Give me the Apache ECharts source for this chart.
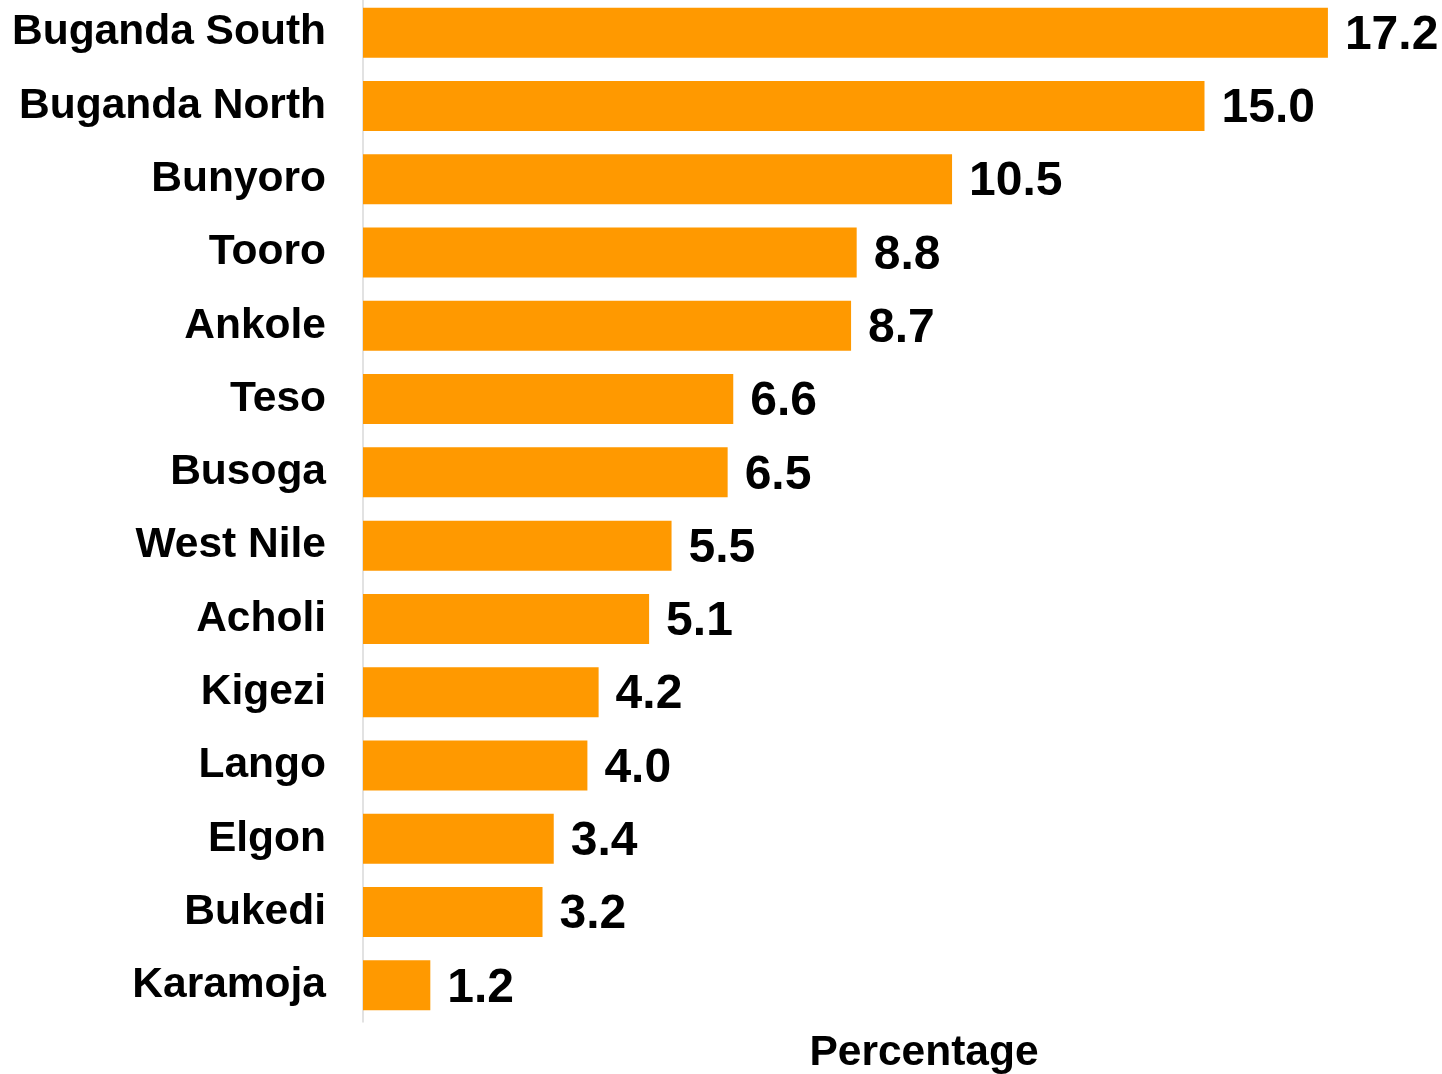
<!DOCTYPE html>
<html>
<head>
<meta charset="utf-8">
<script src="https://cdn.jsdelivr.net/npm/echarts@6/dist/echarts.min.js"></script>
<style>
  html, body { margin: 0; padding: 0; background: #fff; overflow: hidden; }
  /* canvas is a bit larger than the window so the plot can run past the edges */
  #myChart { position: absolute; left: 0; top: -10px; width: 1500px; height: 1094px; }
</style>
</head>
<body>
<div id="myChart"></div>
<script>
// regions, top to bottom
var regions = ["Buganda South", "Buganda North", "Bunyoro", "Tooro", "Ankole", "Teso", "Busoga",
  "West Nile", "Acholi", "Kigezi", "Lango", "Elgon", "Bukedi", "Karamoja"];
var percentages = [17.2, 15.0, 10.5, 8.8, 8.7, 6.6, 6.5, 5.5, 5.1, 4.2, 4.0, 3.4, 3.2, 1.2];
var axisName = "Percentage";

var font = "Liberation Sans, Arial, sans-serif";
var myChart = echarts.init(document.getElementById("myChart"));
myChart.setOption({
  animation: false,
  grid: {
    left: 363,
    top: 6,
    width: 1122,
    height: 1026
  },
  xAxis: {
    type: "value",
    min: 0,
    max: 20,
    name: axisName,
    nameLocation: "middle",
    nameGap: 10,
    nameTextStyle: { fontFamily: font, fontSize: 42.5, fontWeight: "bold", color: "#000" },
    axisLine: { show: false },
    axisTick: { show: false },
    axisLabel: { show: false },
    splitLine: { show: false }
  },
  yAxis: {
    type: "category",
    inverse: true,
    data: regions,
    axisLine: { show: true, lineStyle: { color: "#d9d9d9", width: 1.5 } },
    axisTick: { show: false },
    axisLabel: {
      margin: 37,
      padding: [4, 0, 0, 0],
      fontFamily: font,
      fontSize: 42.5,
      fontWeight: "bold",
      color: "#000"
    }
  },
  series: [
    {
      type: "bar",
      data: percentages,
      barWidth: 50,
      itemStyle: { color: "#FF9900" },
      label: {
        show: true,
        position: "right",
        distance: 17,
        offset: [0, 3],
        fontFamily: font,
        fontSize: 48,
        fontWeight: "bold",
        color: "#000",
        formatter: function (p) {
          return p.value.toFixed(1);
        }
      }
    }
  ]
});
</script>
</body>
</html>
